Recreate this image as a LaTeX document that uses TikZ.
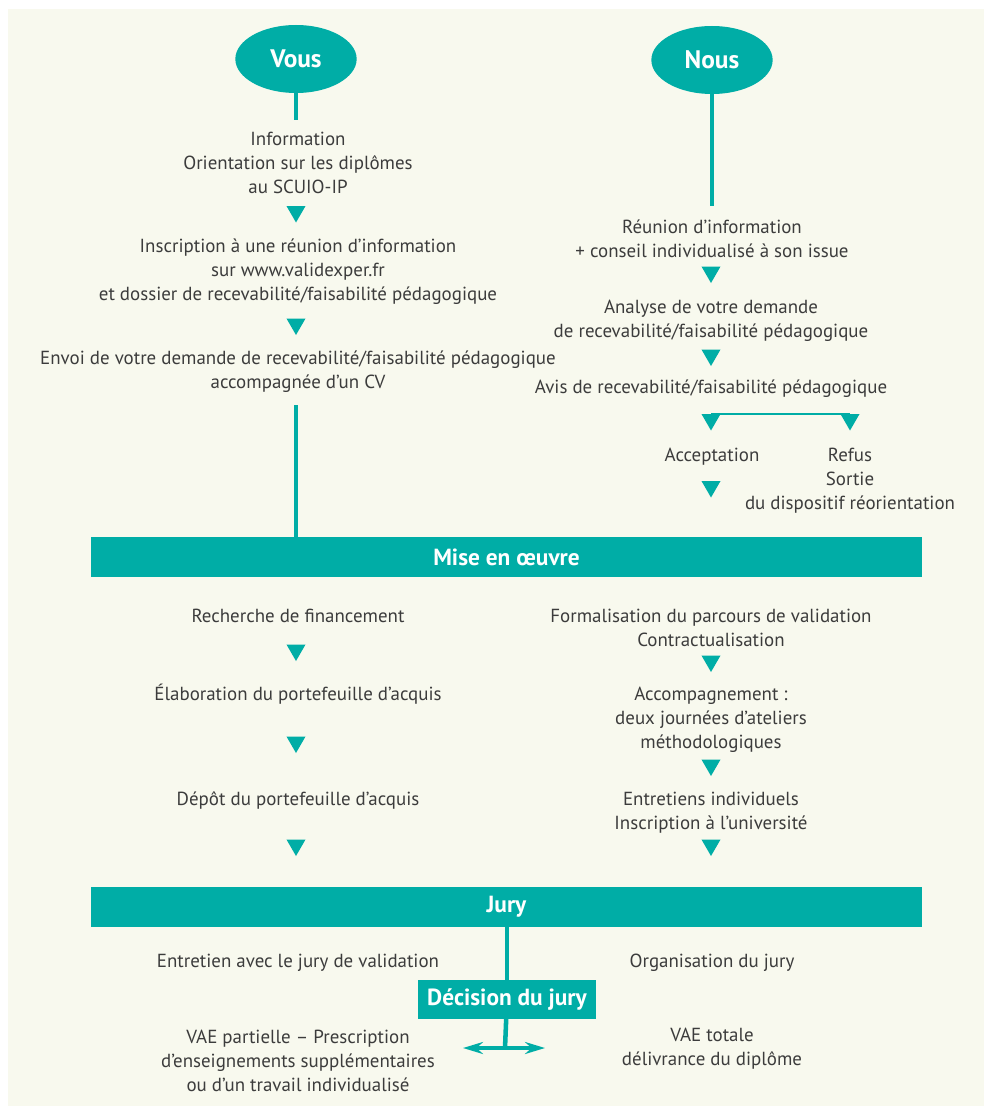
\documentclass[tikz,border=0pt]{standalone}
\usepackage{fontspec}
\setmainfont{PT Sans}
\usetikzlibrary{shapes.geometric,arrows.meta}
\definecolor{vert}{HTML}{00ADA6}
\definecolor{creme}{HTML}{F8F9EE}
\definecolor{texte}{HTML}{3C3C3C}

\begin{document}
\begin{tikzpicture}[x=0.75pt,y=-0.75pt,
  etape/.style={align=center,text=texte,font=\fontsize{14.2}{18}\selectfont,inner sep=0pt,yshift=-1.5pt},
  tri/.style={regular polygon,regular polygon sides=3,shape border rotate=180,fill=vert,inner sep=0pt,minimum size=16.5pt},
  bulle/.style={ellipse,fill=vert,text=white,font=\bfseries\fontsize{19}{20}\selectfont,minimum width=91pt,minimum height=51pt,inner sep=0pt},
  bande/.style={fill=vert,text=white,font=\bfseries\fontsize{17.5}{20}\selectfont,minimum width=623pt,minimum height=30pt,inner sep=0pt},
  trait/.style={vert,line width=3.4pt}]

\useasboundingbox (0,0) rectangle (984,1106);
\fill[creme] (8,9) rectangle (984,1106);

\node[bulle] (vous) at (296,59) {Vous};
\node[bulle] (nous) at (712,60) {Nous};
\coordinate (vous1) at (296,120);
\coordinate (nous1) at (712,206);
\draw[trait] (vous) -- (vous1);
\draw[trait] (nous) -- (nous1);

\node[etape] (info) at (298,161) {Information\\Orientation sur les diplômes\\au SCUIO-IP};
\node[tri] (t1) at (296,211.5) {};
\node[etape] (inscr) at (298,270) {Inscription à une réunion d’information\\sur www.validexper.fr\\et dossier de recevabilité/faisabilité pédagogique};
\node[tri] (t2) at (296,324) {};
\node[etape] (envoi) at (298,370) {Envoi de votre demande de recevabilité/faisabilité pédagogique\\accompagnée d’un CV};
\coordinate (vous2) at (296,405);

\node[etape] (reunion) at (712,236.5) {Réunion d’information\\+ conseil individualisé à son issue};
\node[tri] (t3) at (711,272) {};
\node[etape] (analyse) at (711,319) {Analyse de votre demande\\de recevabilité/faisabilité pédagogique};
\node[tri] (t4) at (711,355) {};
\node[etape] (avis) at (711,387) {Avis de recevabilité/faisabilité pédagogique};
\node[tri] (tacc) at (711,419.5) {};
\node[tri] (tref) at (850,419.5) {};
\draw[vert,line width=1.8pt] (tacc.north) -- (tref.north);
\node[etape] (acc) at (712,455) {Acceptation};
\node[etape] (refus) at (850,479) {Refus\\Sortie\\du dispositif réorientation};
\node[tri] (t5) at (711,486.5) {};

\node[bande] (mise) at (506.5,557) {Mise en œuvre};
\draw[trait] (vous2) -- (vous2 |- mise.north);

\node[etape] (recherche) at (298,614) {Recherche de financement};
\node[tri] (t6) at (296,650) {};
\node[etape] (elab) at (298,692) {Élaboration du portefeuille d’acquis};
\node[tri] (t7) at (296,742) {};
\node[etape] (depot) at (298,798) {Dépôt du portefeuille d’acquis};
\node[tri] (t8) at (296,845) {};

\node[etape] (formal) at (711,626) {Formalisation du parcours de validation\\Contractualisation};
\node[tri] (t9) at (711,661) {};
\node[etape] (accomp) at (711,718) {Accompagnement :\\deux journées d'ateliers\\méthodologiques};
\node[tri] (t10) at (711,765) {};
\node[etape] (entret) at (711,810.5) {Entretiens individuels\\Inscription à l’université};
\node[tri] (t11) at (711,845) {};

\node[bande] (jury) at (506.5,906.5) {Jury};
\node[etape] (entjury) at (298,961) {Entretien avec le jury de validation};
\node[etape] (orga) at (712,961) {Organisation du jury};
\node[fill=vert,text=white,font=\bfseries\fontsize{17.5}{20}\selectfont,minimum width=133.5pt,minimum height=29pt,inner sep=0pt] (decision) at (507,999.5) {Décision du jury};
\draw[trait] (jury.south -| decision) -- (decision);
\coordinate (fleche) at (505,1048);
\coordinate (fg) at (463,1048);
\coordinate (fd) at (545,1048);
\draw[trait] (decision) -- (fleche);
\draw[vert,line width=2.6pt,{Stealth[length=15pt,width=9pt,inset=5pt]}-{Stealth[length=15pt,width=9pt,inset=5pt]}] (fg) -- (fd);

\node[etape] (partielle) at (298,1058.5) {VAE partielle – Prescription\\d’enseignements supplémentaires\\ou d’un travail individualisé};
\node[etape] (totale) at (712,1046.5) {VAE totale\\délivrance du diplôme};
\end{tikzpicture}
\end{document}
